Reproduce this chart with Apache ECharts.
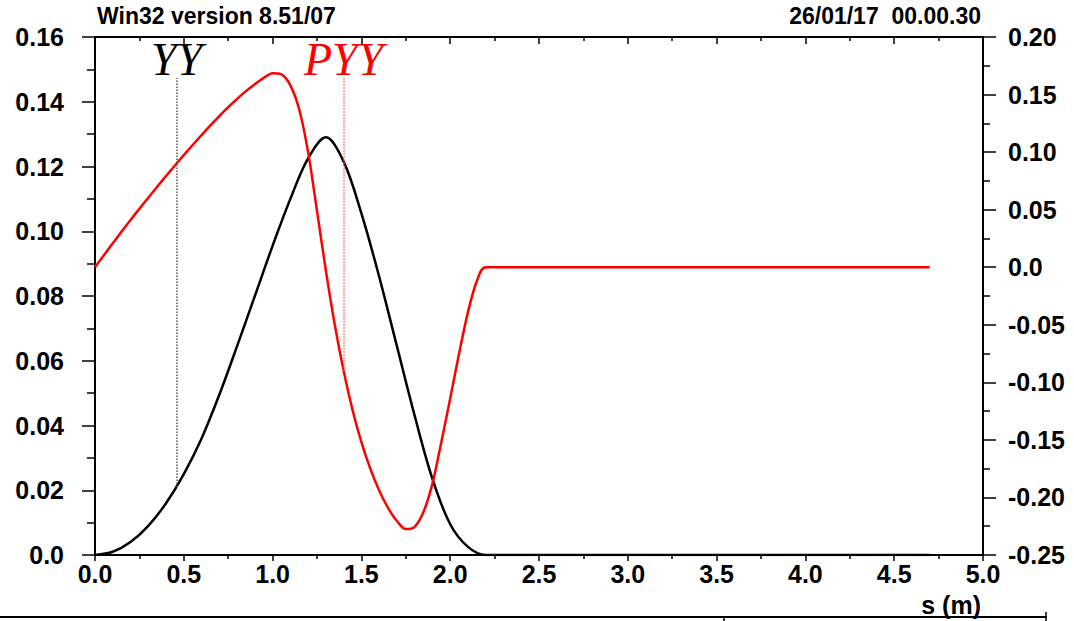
<!DOCTYPE html>
<html>
<head>
<meta charset="utf-8">
<script src="https://cdn.jsdelivr.net/npm/echarts@6/dist/echarts.min.js"></script>
<style>
  html, body { margin: 0; padding: 0; background: #fff; }
  #chart { width: 1074px; height: 621px; }
</style>
</head>
<body>
<div id="chart"></div>
<script>
// s (m) sample positions and the two optics functions
const sYY = [0, 0.1, 0.2, 0.3, 0.4, 0.5, 0.6, 0.7, 0.8, 0.9, 1.0, 1.1, 1.2, 1.3, 1.4, 1.5,
  1.6, 1.7, 1.8, 1.9, 2.0, 2.1, 2.2, 2.3, 4.7];
const yyValues = [0, 0.001, 0.004, 0.009, 0.016, 0.025, 0.036, 0.0495, 0.0645, 0.080, 0.0955,
  0.110, 0.1225, 0.129, 0.1215, 0.1055, 0.086, 0.0645, 0.043, 0.0235, 0.0095, 0.0025, 0, 0, 0];

const sPYY = [0, 0.05, 0.1, 0.15, 0.2, 0.25, 0.3, 0.35, 0.4, 0.45, 0.5, 0.55, 0.6, 0.65, 0.7,
  0.75, 0.8, 0.85, 0.9, 0.95, 1.0, 1.05, 1.1, 1.15, 1.2, 1.25, 1.3, 1.35, 1.4, 1.45, 1.5,
  1.55, 1.6, 1.65, 1.7, 1.75, 1.8, 1.85, 1.9, 1.95, 2.0, 2.05, 2.1, 2.15, 2.2, 4.7];
const pyyValues = [0, 0.0105, 0.0208, 0.031, 0.041, 0.0508, 0.0604, 0.0699, 0.0792, 0.0884,
  0.0974, 0.1062, 0.1148, 0.1232, 0.1313, 0.139, 0.1463, 0.153, 0.159, 0.1645, 0.1685, 0.1675,
  0.158, 0.137, 0.100, 0.049, -0.003, -0.050, -0.090, -0.124, -0.152, -0.175, -0.194, -0.209,
  -0.2205, -0.2275, -0.2255, -0.2125, -0.188, -0.152, -0.114, -0.075, -0.039, -0.012, 0, 0];

// marker lines: s position, foot (on the curve) and top (under the label)
const yyMarker = [0.46, 0.021, 0.1473];
const pyyMarker = [1.40, -0.090, 0.164];

const labelFont = 'Liberation Sans';

function pairs(xs, ys) {
  return xs.map((x, i) => [x, ys[i]]);
}
function leftFmt(v) {
  return Math.abs(v) < 1e-9 ? '0.0' : v.toFixed(2);
}

const chart = echarts.init(document.getElementById('chart'), null, { renderer: 'svg' });

const axisCommon = {
  axisLine: { show: true, onZero: false, lineStyle: { color: '#000', width: 2 } },
  splitLine: { show: false },
  axisLabel: { color: '#000', fontFamily: labelFont, fontWeight: 'bold', fontSize: 25 }
};

const option = {
  animation: false,
  backgroundColor: '#fff',
  grid: { left: 95, right: 91, top: 37, bottom: 66 },
  xAxis: [
    {
      type: 'value', min: 0, max: 5, interval: 0.5, position: 'bottom',
      ...axisCommon,
      axisTick: { show: true, length: 6, lineStyle: { color: '#000', width: 1.5 } },
      minorTick: { show: true, splitNumber: 2, length: 4, lineStyle: { color: '#000', width: 1.5 } },
      axisLabel: { ...axisCommon.axisLabel, margin: 6, formatter: v => v.toFixed(1) }
    },
    {
      type: 'value', min: 0, max: 5, interval: 0.5, position: 'top',
      ...axisCommon,
      axisTick: { show: true, inside: true, length: 7, lineStyle: { color: '#000', width: 1.5 } },
      minorTick: { show: true, splitNumber: 2, length: 4, lineStyle: { color: '#000', width: 1.5 } },
      axisLabel: { show: false }
    }
  ],
  yAxis: [
    {
      type: 'value', min: 0, max: 0.16, interval: 0.02, position: 'left',
      ...axisCommon,
      axisTick: { show: true, length: 13, lineStyle: { color: '#000', width: 1.5 } },
      minorTick: { show: true, splitNumber: 2, length: 8, lineStyle: { color: '#000', width: 1.5 } },
      axisLabel: { ...axisCommon.axisLabel, margin: 31, formatter: leftFmt }
    },
    {
      type: 'value', min: -0.25, max: 0.2, interval: 0.05, position: 'right',
      ...axisCommon,
      axisTick: { show: true, length: 13, lineStyle: { color: '#000', width: 1.5 } },
      minorTick: { show: true, splitNumber: 2, length: 7, lineStyle: { color: '#000', width: 1.5 } },
      axisLabel: { ...axisCommon.axisLabel, margin: 25, formatter: leftFmt }
    }
  ],
  series: [
    {
      name: 'YY', type: 'line', xAxisIndex: 0, yAxisIndex: 0,
      data: pairs(sYY, yyValues),
      smooth: 0.35, showSymbol: false,
      lineStyle: { color: '#000', width: 2.5 },
      z: 3,
      markLine: {
        silent: true, symbol: 'none',
        lineStyle: { color: '#555', type: 'dotted', width: 1.5 },
        label: {
          show: true, position: 'end', distance: -4, formatter: 'YY',
          fontFamily: 'Liberation Serif', fontStyle: 'italic', fontSize: 46, color: '#000'
        },
        data: [[{ coord: [yyMarker[0], yyMarker[1]] }, { coord: [yyMarker[0], yyMarker[2]] }]]
      }
    },
    {
      name: 'PYY', type: 'line', xAxisIndex: 0, yAxisIndex: 1,
      data: pairs(sPYY, pyyValues),
      smooth: 0.3, showSymbol: false,
      lineStyle: { color: '#ff0000', width: 2.5 },
      z: 4,
      markLine: {
        silent: true, symbol: 'none',
        lineStyle: { color: '#ff6666', type: 'dotted', width: 1.5 },
        label: {
          show: true, position: 'end', distance: -4, formatter: 'PYY',
          fontFamily: 'Liberation Serif', fontStyle: 'italic', fontSize: 46, color: '#ff0000'
        },
        data: [[{ coord: [pyyMarker[0], pyyMarker[1]] }, { coord: [pyyMarker[0], pyyMarker[2]] }]]
      }
    }
  ],
  graphic: [
    {
      type: 'text', left: 97, top: 4,
      style: { text: 'Win32 version 8.51/07', font: 'bold 23px "Liberation Sans"', fill: '#000' }
    },
    {
      type: 'text', right: 93, top: 4,
      style: { text: '26/01/17  00.00.30', font: 'bold 23px "Liberation Sans"', fill: '#000' }
    },
    {
      type: 'text', right: 93, top: 592,
      style: { text: 's (m)', font: 'bold 25px "Liberation Sans"', fill: '#000' }
    },
    { type: 'line', shape: { x1: 0, y1: 617, x2: 1047, y2: 617 }, style: { stroke: '#000', lineWidth: 2 } },
    { type: 'line', shape: { x1: 724, y1: 617, x2: 724, y2: 621 }, style: { stroke: '#000', lineWidth: 1.5 } },
    { type: 'line', shape: { x1: 1046, y1: 612, x2: 1046, y2: 621 }, style: { stroke: '#000', lineWidth: 1.5 } }
  ]
};

chart.setOption(option);
</script>
</body>
</html>
